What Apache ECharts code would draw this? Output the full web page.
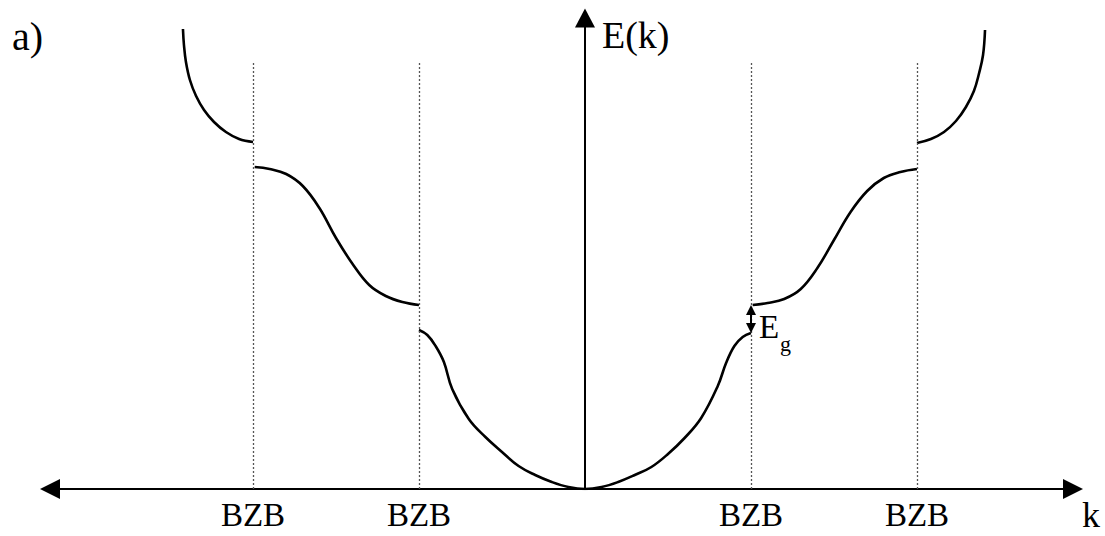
<!DOCTYPE html>
<html>
<head>
<meta charset="utf-8">
<title>E(k) band diagram</title>
<script src="https://cdn.jsdelivr.net/npm/echarts@6/dist/echarts.min.js"></script>
<style>
  html, body { margin: 0; padding: 0; background: #fff; }
  #chart { width: 1105px; height: 536px; }
</style>
</head>
<body>
<div id="chart"></div>
<script>
// Wave vector k in units of the zone boundary; energy E in arbitrary units.
const bzbPositions = [-2, -1, 1, 2];
const bzbLabels = ['BZB', 'BZB', 'BZB', 'BZB'];
const dottedTop = 4.27;

// Third band, left of the second zone boundary
const bandOuterLeft = [
  [-2.422, 4.60], [-2.416, 4.44], [-2.404, 4.27], [-2.380, 4.09],
  [-2.343, 3.93], [-2.295, 3.79], [-2.235, 3.67], [-2.163, 3.57],
  [-2.084, 3.50], [-2.0, 3.47]
];
// Second band, between -2 and -1
const bandSecondLeft = [
  [-1.99, 3.22], [-1.9, 3.20], [-1.8, 3.15], [-1.7, 3.03],
  [-1.6, 2.81], [-1.5, 2.51], [-1.4, 2.25], [-1.3, 2.04],
  [-1.2, 1.93], [-1.1, 1.87], [-1.0, 1.84]
];
// First band, from -1 through k = 0 to +1
const bandCentral = [
  [-1.0, 1.59], [-0.95, 1.54], [-0.9, 1.43], [-0.85, 1.27],
  [-0.8, 1.00], [-0.7, 0.70], [-0.6, 0.52], [-0.5, 0.37],
  [-0.4, 0.23], [-0.3, 0.14], [-0.2, 0.07], [-0.1, 0.02],
  [0, 0],
  [0.1, 0.02], [0.2, 0.07], [0.3, 0.14], [0.4, 0.22],
  [0.5, 0.35], [0.6, 0.51], [0.7, 0.71], [0.8, 1.03],
  [0.85, 1.26], [0.9, 1.43], [0.95, 1.52], [1.0, 1.56]
];
// Second band, between +1 and +2
const bandSecondRight = [
  [1.01, 1.84], [1.1, 1.86], [1.2, 1.90], [1.3, 2.00],
  [1.4, 2.21], [1.5, 2.49], [1.6, 2.77], [1.7, 2.98],
  [1.8, 3.11], [1.9, 3.17], [2.0, 3.20]
];
// Third band, right of the second zone boundary
const bandOuterRight = [
  [2.0, 3.46], [2.084, 3.50], [2.163, 3.57], [2.235, 3.68],
  [2.295, 3.82], [2.343, 3.98], [2.373, 4.15], [2.398, 4.34],
  [2.410, 4.59]
];

// Gap at the first zone boundary (lower and upper band edges)
const gapK = 1;
const gapLower = 1.56;
const gapUpper = 1.84;
const headInset = 0.05;

const serifFont = '"Liberation Serif", "DejaVu Serif", serif';
const ink = '#000';

const chart = echarts.init(document.getElementById('chart'), null, { renderer: 'svg' });

function bandSeries(name, data, extra) {
  return Object.assign({
    name: name,
    type: 'line',
    data: data,
    smooth: 0.4,
    showSymbol: false,
    symbol: 'none',
    silent: true,
    lineStyle: { color: ink, width: 2.6 },
    z: 3
  }, extra || {});
}

chart.setOption({
  animation: false,
  backgroundColor: '#fff',
  grid: { left: 50, right: 32, top: 18, bottom: 47, containLabel: false },
  xAxis: {
    type: 'value',
    min: -3.223,
    max: 2.940,
    axisLine: {
      onZero: true,
      symbol: ['triangle', 'triangle'],
      symbolSize: [20, 20],
      lineStyle: { color: ink, width: 2 }
    },
    axisTick: { show: false },
    splitLine: { show: false },
    axisLabel: {
      customValues: bzbPositions,
      formatter: function (v) {
        const i = bzbPositions.indexOf(v);
        return i >= 0 ? bzbLabels[i] : '';
      },
      margin: 9,
      color: ink,
      fontFamily: serifFont,
      fontSize: 33
    }
  },
  yAxis: {
    type: 'value',
    min: 0,
    max: 4.71,
    axisLine: {
      show: true,
      onZero: true,
      symbol: ['none', 'triangle'],
      symbolSize: [20, 19],
      lineStyle: { color: ink, width: 2 }
    },
    axisTick: { show: false },
    axisLabel: { show: false },
    splitLine: { show: false }
  },
  series: [
    bandSeries('band3-left', bandOuterLeft),
    bandSeries('band2-left', bandSecondLeft),
    bandSeries('band1', bandCentral, {
      markLine: {
        silent: true,
        symbol: ['none', 'none'],
        label: { show: false },
        lineStyle: { color: '#555', width: 1.3, type: [2, 2] },
        data: bzbPositions.map(function (k) {
          return [{ coord: [k, 0] }, { coord: [k, dottedTop] }];
        })
      }
    }),
    bandSeries('band2-right', bandSecondRight, {
      markLine: {
        silent: true,
        symbol: ['triangle', 'triangle'],
        symbolSize: [10, 10],
        label: { show: false },
        lineStyle: { color: ink, width: 2, type: 'solid' },
        data: [[
          { coord: [gapK, gapLower + headInset] },
          { coord: [gapK, gapUpper - headInset] }
        ]]
      }
    }),
    bandSeries('band3-right', bandOuterRight)
  ],
  graphic: [
    {
      type: 'text', left: 12, top: 16,
      style: { text: 'a)', fill: ink, font: '40px ' + serifFont }
    },
    {
      type: 'text', left: 602, top: 16,
      style: { text: 'E(k)', fill: ink, font: '38px ' + serifFont }
    },
    {
      type: 'text', left: 1082, top: 497,
      style: { text: 'k', fill: ink, font: '36px ' + serifFont }
    },
    {
      type: 'text', left: 759, top: 310,
      style: { text: 'E', fill: ink, font: '33px ' + serifFont }
    },
    {
      type: 'text', left: 780, top: 332,
      style: { text: 'g', fill: ink, font: '22px ' + serifFont }
    }
  ]
});
</script>
</body>
</html>
